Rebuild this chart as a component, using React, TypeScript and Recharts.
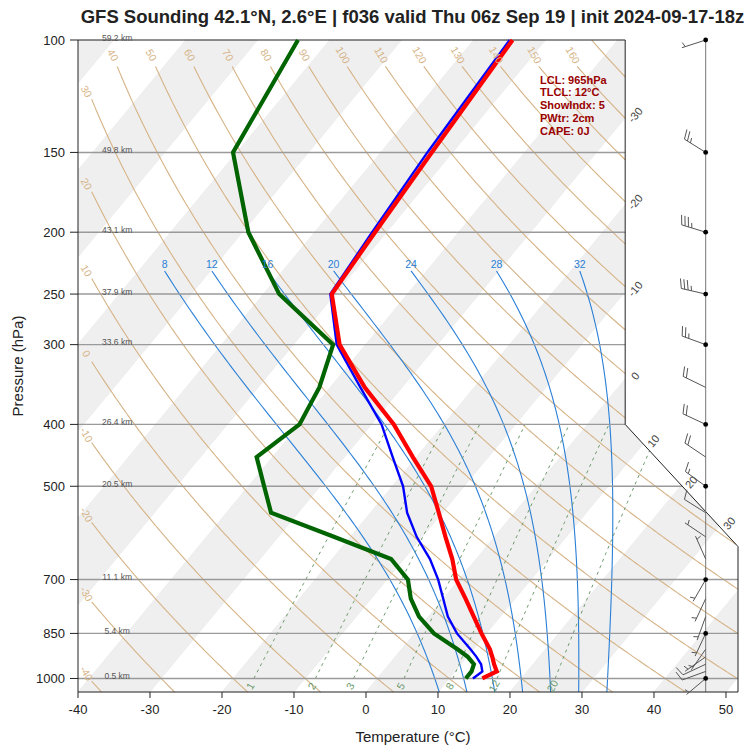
import React from 'react';
import { ComposedChart, Line, Area, Scatter, XAxis, YAxis, Label } from 'recharts';

const FONT = "'Liberation Sans', Arial, Helvetica, sans-serif";

// ---------------- sounding profile ----------------
const levels = [1000, 975, 950, 925, 900, 850, 800, 750, 700, 650, 600, 550, 500, 450, 400, 350, 300, 250, 200, 150, 100];
const temperature = [14.6, 15.8, 14.6, 13.5, 12.3, 9.3, 6.3, 3.1, -0.4, -3.3, -6.8, -10.5, -14.6, -20.5, -26.9, -35.2, -43.6, -50.5, -51.6, -52.9, -54.6];
const wetBulb = [13.3, 13.8, 12.8, 11.3, 9.6, 5.9, 2.7, 0.0, -2.9, -6.4, -10.8, -14.9, -18.5, -23.3, -28.6, -35.8, -44.0, -50.7, -52.0, -53.5, -55.0];
const dewPoint = [12.3, 12.3, 11.8, 10.1, 7.8, 2.7, -1.3, -4.5, -7.1, -11.8, -22.3, -33.8, -37.8, -42.2, -40.0, -41.5, -44.5, -57.8, -69.2, -80.5, -84.4];

// ---------------- winds ----------------
const windLevels = [100, 150, 200, 250, 300, 350, 400, 450, 500, 550, 600, 650, 700, 750, 800, 850, 900, 925, 950, 975, 1000];
const windDir = [252, 302, 287, 283, 290, 296, 295, 304, 306, 302, 304, 336, 210, 205, 200, 205, 215, 235, 245, 250, 230];
const windSpeed = [5, 25, 35, 35, 25, 20, 20, 20, 15, 10, 5, 5, 5, 5, 5, 5, 5, 5, 10, 10, 5];
const windDotLevels = [100, 150, 200, 250, 300, 400, 500, 700, 850, 1000];

// ---------------- axes / annotations ----------------
const pressureTicks = [100, 150, 200, 250, 300, 400, 500, 700, 850, 1000];
const temperatureTicks = [-40, -30, -20, -10, 0, 10, 20, 30, 40, 50];
const isobarLevels = [150, 200, 250, 300, 400, 500, 700, 850, 1000];
const heightLevels = [100, 150, 200, 250, 300, 400, 500, 700, 850, 1000];
const heightLabels = ['59.2 km', '49.8 km', '43.1 km', '37.9 km', '33.6 km', '26.4 km', '20.5 km', '11.1 km', '5.4 km', '0.5 km'];

const dryAdiabats = [-40, -30, -20, -10, 0, 10, 20, 30, 40, 50, 60, 70, 80, 90, 100, 110, 120, 130, 140, 150, 160, 170];
const dryLabelled = [-40, -30, -20, -10, 0, 10, 20, 30, 40, 50, 60, 70, 80, 90, 100, 110, 120, 130, 140, 150, 160];
const moistAdiabats = [8, 12, 16, 20, 24, 28, 32];
const mixingRatios = [1, 2, 3, 5, 8, 12, 20];
const isothermBandStarts = [-120, -100, -80, -60, -40, -20, 0, 20, 40];
const isothermLabels = [-30, -20, -10, 0, 10, 20, 30];

const titleText = 'GFS Sounding 42.1°N, 2.6°E | f036 valid Thu 06z Sep 19 | init 2024-09-17-18z';
const infoLines = ['LCL: 965hPa', 'TLCL: 12°C', 'ShowIndx: 5', 'PWtr: 2cm', 'CAPE: 0J'];

// ---------------- diagram geometry (data space) ----------------
const SKEW = 73.4;
const P_TOP = 100;
const P_BOT = 1050;
const X_LO = -40;
const X_HI = 51.67;
const X_CUT = 36;
const P_CUT = 400;
const P_CUT2 = 621.5;
const BARB_X = 47.18;
const HEIGHT_X = -34.56;

type Pt = { x: number; p: number };

const lg = Math.log10;
const skewX = (t: number, p: number) => t + SKEW * lg(P_BOT / p);

const borderX = (p: number) => {
  if (p <= P_CUT) return X_CUT;
  if (p >= P_CUT2) return X_HI;
  return X_CUT + ((X_HI - X_CUT) * lg(p / P_CUT)) / lg(P_CUT2 / P_CUT);
};
const borderP = (x: number) => {
  if (x <= X_CUT) return P_TOP;
  if (x >= X_HI) return P_CUT2;
  return P_CUT * Math.pow(10, ((x - X_CUT) / (X_HI - X_CUT)) * lg(P_CUT2 / P_CUT));
};

function clipSegments(segs: Pt[][], g: (pt: Pt) => number): Pt[][] {
  const out: Pt[][] = [];
  for (const pts of segs) {
    let cur: Pt[] = [];
    for (let i = 0; i < pts.length; i++) {
      const a = pts[i];
      const ga = g(a);
      if (i > 0) {
        const b = pts[i - 1];
        const gb = g(b);
        if (ga >= 0 !== gb >= 0) {
          const t = gb / (gb - ga);
          const ub = lg(b.p);
          const ua = lg(a.p);
          cur.push({ x: b.x + t * (a.x - b.x), p: Math.pow(10, ub + t * (ua - ub)) });
          if (gb >= 0) {
            if (cur.length > 1) out.push(cur);
            cur = [];
          }
        }
      }
      if (ga >= 0) cur.push(a);
    }
    if (cur.length > 1) out.push(cur);
  }
  return out;
}
const insidePanel = (pt: Pt) => borderX(pt.p) - pt.x;

// thermodynamics for the background lines
const es = (tc: number) => 6.112 * Math.exp((17.67 * tc) / (tc + 243.5));
const dryT = (theta: number, p: number) => (theta + 273.15) * Math.pow(p / 1000, 0.2857) - 273.15;
const tdFromW = (w: number, p: number) => {
  const e = (w * p) / (622 + w);
  const l = Math.log(e / 6.112);
  return (243.5 * l) / (17.67 - l);
};
const moistRate = (p: number, tc: number) => {
  const T = tc + 273.15;
  const e = es(tc);
  const rs = (0.622 * e) / (p - e);
  const Rd = 287.04, Cp = 1005.7, Lv = 2.501e6, eps = 0.622;
  return (Rd * T + Lv * rs) / (p * (Cp + (Lv * Lv * rs * eps) / (Rd * T * T)));
};
const rk4 = (p: number, t: number, h: number) => {
  const k1 = moistRate(p, t);
  const k2 = moistRate(p + h / 2, t + (h * k1) / 2);
  const k3 = moistRate(p + h / 2, t + (h * k2) / 2);
  const k4 = moistRate(p + h, t + h * k3);
  return t + (h * (k1 + 2 * k2 + 2 * k3 + k4)) / 6;
};

// ---------------- series built from the arrays ----------------
const profile = (vals: number[]) => levels.map((p, i) => ({ x: skewX(vals[i], p), p }));
const tempData = profile(temperature);
const wetData = profile(wetBulb);
const dewData = profile(dewPoint);

const bandData = (t1: number) => {
  const t2 = t1 + 10;
  const top = SKEW * lg(P_BOT / P_TOP);
  const xs: number[] = [];
  for (let i = 0; i <= 917; i++) xs.push(X_LO + i * 0.1);
  [t1, t2, t1 + top, t2 + top, X_CUT].forEach((v) => {
    if (v > X_LO && v < X_HI) xs.push(v);
  });
  xs.push(X_HI);
  xs.sort((a, b) => a - b);
  const out: { x: number; band: number[] }[] = [];
  for (const xr of xs) {
    const x = Math.min(xr, X_HI);
    const pa = P_BOT * Math.pow(10, -(x - t1) / SKEW);
    const pb = P_BOT * Math.pow(10, -(x - t2) / SKEW);
    const lo = Math.max(pa, borderP(x));
    const hi = Math.min(pb, P_BOT);
    if (hi > lo) out.push({ x, band: [lo, hi] });
  }
  return out;
};

const dryCurves = dryAdiabats.map((theta) => {
  const pts: Pt[] = [];
  for (let i = 0; i <= 380; i++) {
    const p = P_TOP + i * 2.5;
    pts.push({ x: skewX(dryT(theta, p), p), p });
  }
  let segs = [pts];
  if (dryLabelled.indexOf(theta) >= 0) {
    segs = clipSegments(segs, (pt) => pt.p - 110);
  }
  segs = clipSegments(segs, (pt) => pt.x + 38.1);
  segs = clipSegments(segs, insidePanel);
  return { theta, segs };
});

const dryLabelData = dryCurves
  .filter((c) => dryLabelled.indexOf(c.theta) >= 0 && c.segs.length > 0)
  .map((c) => {
    const s = c.segs[0][0];
    const fromTop = s.p < 111;
    return { x: s.x, p: s.p, text: String(c.theta), dx: fromTop ? -4 : -5, dy: fromTop ? -11.5 : -8 };
  });

const moistCurves = moistAdiabats.map((tw) => {
  const up: Pt[] = [];
  let t = tw;
  for (let p = 1000; p > 230.001; p -= 5) {
    t = rk4(p, t, -5);
    up.push({ x: skewX(t, p - 5), p: p - 5 });
  }
  const down: Pt[] = [];
  t = tw;
  for (let p = 1000; p < 1049.999; p += 5) {
    t = rk4(p, t, 5);
    down.push({ x: skewX(t, p + 5), p: p + 5 });
  }
  const pts = [...down.reverse(), { x: skewX(tw, 1000), p: 1000 }, ...up];
  return { tw, segs: clipSegments([pts], insidePanel), top: up[up.length - 1] };
});
const moistLabelData = moistCurves.map((c) => ({ x: c.top.x, p: c.top.p, text: String(c.tw) }));

const mixingCurves = mixingRatios.map((w) => {
  const pts: Pt[] = [];
  for (let p = 1000; p >= 400; p -= 10) pts.push({ x: skewX(tdFromW(w, p), p), p });
  return { w, segs: clipSegments([pts], insidePanel) };
});
const mixingLabelData = mixingRatios.map((w) => ({ x: skewX(tdFromW(w, 1027), 1027), p: 1027, text: String(w) }));

const isothermLabelData = isothermLabels.map((t) => {
  let lo = P_TOP, hi = P_BOT;
  const f = (p: number) => borderX(p) - skewX(t, p);
  for (let i = 0; i < 60; i++) {
    const m = Math.sqrt(lo * hi);
    if (f(m) < 0) lo = m;
    else hi = m;
  }
  return { x: skewX(t, lo), p: lo, text: String(t) };
});

const heightLabelData = heightLevels.map((p, i) => ({ x: HEIGHT_X, p, text: heightLabels[i] }));

const windData = windLevels.map((p, i) => ({
  x: BARB_X,
  p,
  dir: windDir[i],
  spd: windSpeed[i],
  dot: windDotLevels.indexOf(p) >= 0,
}));

const isobarData = isobarLevels.map((p) => [
  { x: X_LO, p },
  { x: borderX(p), p },
]);
const frameTop = [{ x: X_LO, p: P_TOP }, { x: X_CUT, p: P_TOP }];
const frameRight = [
  { x: X_CUT, p: P_TOP },
  { x: X_CUT, p: P_CUT },
  { x: X_HI, p: P_CUT2 },
  { x: X_HI, p: P_BOT },
];
const barbColumn = [{ x: BARB_X, p: P_TOP }, { x: BARB_X, p: P_BOT }];

// ---------------- shapes ----------------
const makeText =
  (o: { size: number; fill: string; rot?: number; dx?: number; dy?: number; anchor?: string; weight?: string }) =>
  (props: any) => {
    const { cx, cy, payload } = props;
    if (cx == null || cy == null) return <g />;
    const x = cx + (payload.dx != null ? payload.dx : o.dx || 0);
    const y = cy + (payload.dy != null ? payload.dy : o.dy || 0);
    return (
      <text
        x={x}
        y={y}
        fontSize={o.size}
        fill={o.fill}
        fontFamily={FONT}
        fontWeight={o.weight || 'normal'}
        textAnchor={(o.anchor as any) || 'middle'}
        dominantBaseline="central"
        transform={o.rot ? `rotate(${o.rot} ${x} ${y})` : undefined}
      >
        {payload.text}
      </text>
    );
  };

const barbShape = (props: any) => {
  const { cx, cy, payload } = props;
  if (cx == null || cy == null) return <g />;
  const rad = (payload.dir * Math.PI) / 180;
  const ux = Math.sin(rad);
  const uy = -Math.cos(rad);
  const L = 25;
  const tx = cx + ux * L;
  const ty = cy + uy * L;
  const a = (72 * Math.PI) / 180;
  const fx = Math.cos(a) * ux - Math.sin(a) * uy;
  const fy = Math.sin(a) * ux + Math.cos(a) * uy;
  const s = Math.round(payload.spd / 5) * 5;
  const n10 = Math.floor(s / 10);
  const n5 = s % 10 >= 5;
  const gap = 3.5;
  const parts: any[] = [];
  let k = 0;
  for (let i = 0; i < n10; i++) {
    const bx = tx - ux * gap * k;
    const by = ty - uy * gap * k;
    parts.push(<line key={'f' + i} x1={bx} y1={by} x2={bx + fx * 10} y2={by + fy * 10} />);
    k++;
  }
  if (n5) {
    if (k === 0) k = 1;
    const bx = tx - ux * gap * k;
    const by = ty - uy * gap * k;
    parts.push(<line key="h" x1={bx} y1={by} x2={bx + fx * 5} y2={by + fy * 5} />);
  }
  return (
    <g stroke="#555" strokeWidth={1} fill="none">
      <line x1={cx} y1={cy} x2={tx} y2={ty} />
      {parts}
      {payload.dot ? <circle cx={cx} cy={cy} r={2.4} fill="#000" stroke="none" /> : null}
    </g>
  );
};

const lineProps = { dot: false, activeDot: false, isAnimationActive: false, legendType: 'none' as const, type: 'linear' as const, dataKey: 'p' };

const renderYLabel = (props: any) => {
  const vb = props.viewBox || { x: 0, y: 40, width: 78, height: 652 };
  const x = vb.x + 17;
  const y = vb.y + vb.height / 2;
  return (
    <text x={x} y={y} transform={`rotate(-90 ${x} ${y})`} textAnchor="middle" dominantBaseline="central" fontSize={15} fill="#222" fontFamily={FONT}>
      Pressure (hPa)
    </text>
  );
};
const renderXLabel = (props: any) => {
  const vb = props.viewBox || { x: 78, y: 692, width: 660, height: 58 };
  const x = vb.x + vb.width / 2 + 5;
  const y = vb.y + 44;
  return (
    <text x={x} y={y} textAnchor="middle" dominantBaseline="central" fontSize={15} fill="#222" fontFamily={FONT}>
      Temperature (°C)
    </text>
  );
};

export default function App() {
  return (
    <div style={{ position: 'absolute', left: 0, top: 0, width: 750, height: 750, background: '#fff', fontFamily: FONT }}>
      <ComposedChart width={750} height={750} margin={{ top: 40, right: 12, bottom: 0, left: 0 }} style={{ fontFamily: FONT }}>
        <XAxis
          type="number"
          dataKey="x"
          domain={[X_LO, X_HI]}
          ticks={temperatureTicks}
          interval={0}
          height={58}
          tickSize={6}
          tickMargin={7}
          tick={{ fontSize: 13, fill: '#222', fontFamily: FONT }}
          tickLine={{ stroke: '#222' }}
          axisLine={{ stroke: '#222' }}
        >
          <Label content={renderXLabel} />
        </XAxis>
        <YAxis
          type="number"
          dataKey="p"
          scale="log"
          domain={[P_TOP, P_BOT]}
          reversed
          ticks={pressureTicks}
          interval={0}
          width={78}
          tickSize={8}
          tickMargin={5}
          tick={{ fontSize: 13, fill: '#222', fontFamily: FONT }}
          tickLine={{ stroke: '#222' }}
          axisLine={{ stroke: '#222' }}
        >
          <Label content={renderYLabel} />
        </YAxis>

        {isothermBandStarts.map((t) => (
          <Area
            key={'band' + t}
            data={bandData(t)}
            dataKey="band"
            type="linear"
            stroke="#e4e4e4"
            strokeWidth={0.5}
            fill="#efefef"
            fillOpacity={1}
            dot={false}
            activeDot={false}
            isAnimationActive={false}
            legendType="none"
          />
        ))}

        {dryCurves.flatMap((c) =>
          c.segs.map((s, j) => <Line key={`dry${c.theta}_${j}`} {...lineProps} data={s} stroke="#d6b386" strokeWidth={1.1} />)
        )}
        {moistCurves.flatMap((c) =>
          c.segs.map((s, j) => <Line key={`moist${c.tw}_${j}`} {...lineProps} data={s} stroke="#2a7fd6" strokeWidth={1.1} />)
        )}
        {mixingCurves.flatMap((c) =>
          c.segs.map((s, j) => (
            <Line key={`mix${c.w}_${j}`} {...lineProps} data={s} stroke="#6c9a6c" strokeWidth={1} strokeDasharray="3 4" />
          ))
        )}
        {isobarData.map((d, i) => (
          <Line key={'iso' + i} {...lineProps} data={d} stroke="#9a9a9a" strokeWidth={1.4} />
        ))}
        <Line {...lineProps} data={frameTop} stroke="#222" strokeWidth={1} />
        <Line {...lineProps} data={frameRight} stroke="#222" strokeWidth={1} />
        <Line {...lineProps} data={barbColumn} stroke="#777" strokeWidth={1} />

        <Line {...lineProps} data={dewData} stroke="#006400" strokeWidth={4.2} />
        <Line {...lineProps} data={wetData} stroke="#0000ff" strokeWidth={2.4} />
        <Line {...lineProps} data={tempData} stroke="#ff0000" strokeWidth={4.2} />

        <Scatter data={dryLabelData} dataKey="p" isAnimationActive={false} legendType="none" shape={makeText({ size: 10.5, fill: '#d6b386', rot: 60 })} />
        <Scatter data={moistLabelData} dataKey="p" isAnimationActive={false} legendType="none" shape={makeText({ size: 10.5, fill: '#2a7fd6', dy: -7 })} />
        <Scatter data={mixingLabelData} dataKey="p" isAnimationActive={false} legendType="none" shape={makeText({ size: 10.5, fill: '#6c9a6c', rot: -60 })} />
        <Scatter data={isothermLabelData} dataKey="p" isAnimationActive={false} legendType="none" shape={makeText({ size: 11, fill: '#444', rot: -50, dx: 10, dy: -3 })} />
        <Scatter data={heightLabelData} dataKey="p" isAnimationActive={false} legendType="none" shape={makeText({ size: 8.5, fill: '#555', dy: -2.5 })} />
        <Scatter data={windData} dataKey="p" isAnimationActive={false} legendType="none" shape={barbShape} />
      </ComposedChart>

      <div
        style={{
          position: 'absolute',
          left: 78,
          top: 7,
          width: 669,
          textAlign: 'center',
          fontSize: 18.5,
          fontWeight: 'bold',
          color: '#222',
          lineHeight: '20px',
          whiteSpace: 'nowrap',
        }}
      >
        {titleText}
      </div>
      <div
        style={{
          position: 'absolute',
          left: 540,
          top: 73.5,
          fontSize: 11,
          fontWeight: 'bold',
          color: '#990000',
          lineHeight: '12.75px',
          whiteSpace: 'nowrap',
        }}
      >
        {infoLines.map((t) => (
          <div key={t}>{t}</div>
        ))}
      </div>
    </div>
  );
}
